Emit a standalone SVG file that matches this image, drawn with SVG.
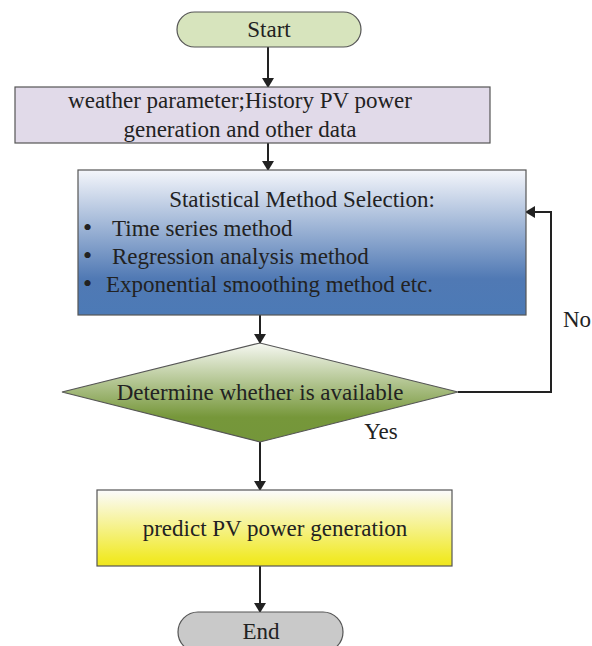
<svg xmlns="http://www.w3.org/2000/svg" width="592" height="646" viewBox="0 0 592 646">
  <style>
    text { font-family: "Liberation Serif", "DejaVu Serif", serif; font-size: 23px; fill: #222; }
    .mid { text-anchor: middle; }
    .bullet { font-size: 26px; }
    .edge { fill: none; stroke: #222; stroke-width: 2; }
    .box { stroke: #555; stroke-width: 1.2; }
  </style>
  <defs>
    <marker id="arrow" markerWidth="10" markerHeight="12" refX="9" refY="6" orient="auto" markerUnits="userSpaceOnUse">
      <path d="M0,0 L10,6 L0,12 Z" fill="#222"/>
    </marker>
    <linearGradient id="gBlue" x1="0" y1="0" x2="0" y2="1">
      <stop offset="0" stop-color="#f4f6fb"/>
      <stop offset="0.75" stop-color="#5079b4"/>
      <stop offset="1" stop-color="#4c7ab6"/>
    </linearGradient>
    <linearGradient id="gGreen" x1="0" y1="0" x2="0" y2="1">
      <stop offset="0" stop-color="#f6f8f2"/>
      <stop offset="0.75" stop-color="#76973a"/>
      <stop offset="1" stop-color="#74963a"/>
    </linearGradient>
    <linearGradient id="gYellow" x1="0" y1="0" x2="0" y2="1">
      <stop offset="0" stop-color="#fbfbfd"/>
      <stop offset="0.9" stop-color="#f1ea2a"/>
      <stop offset="1" stop-color="#efe620"/>
    </linearGradient>
  </defs>

  <!-- connectors -->
  <g id="connectors">
    <line class="edge" x1="268" y1="47" x2="268" y2="87" marker-end="url(#arrow)"/>
    <line class="edge" x1="268" y1="143" x2="268" y2="170" marker-end="url(#arrow)"/>
    <line class="edge" x1="260" y1="315" x2="260" y2="343" marker-end="url(#arrow)"/>
    <polyline class="edge" points="458,392 551,392 551,212 526,212" marker-end="url(#arrow)"/>
    <line class="edge" x1="260" y1="442" x2="260" y2="490" marker-end="url(#arrow)"/>
    <line class="edge" x1="260" y1="566" x2="260" y2="612" marker-end="url(#arrow)"/>
    <text x="577" y="327" class="mid">No</text>
    <text x="381" y="439" class="mid">Yes</text>
  </g>

  <g id="start">
    <rect x="177" y="12" width="184" height="35" rx="17.5" fill="#d7e4bd" class="box"/>
    <text x="269" y="37" class="mid">Start</text>
  </g>

  <g id="input-data">
    <rect x="15" y="87" width="475" height="56" fill="#e1dae9" class="box"/>
    <text x="240" y="108" class="mid">weather parameter;History PV power</text>
    <text x="240" y="137" class="mid">generation and other data</text>
  </g>

  <g id="method-selection">
    <rect x="78" y="170" width="448" height="145" fill="url(#gBlue)" class="box"/>
    <text x="302" y="207" class="mid">Statistical Method Selection:</text>
    <text x="83" y="236" class="bullet">•</text>
    <text x="112" y="236">Time series method</text>
    <text x="83" y="264" class="bullet">•</text>
    <text x="112" y="264">Regression analysis method</text>
    <text x="83" y="292" class="bullet">•</text>
    <text x="106" y="292">Exponential smoothing method etc.</text>
  </g>

  <g id="decision">
    <polygon points="62,392 260,343 458,392 260,442" fill="url(#gGreen)" class="box"/>
    <text x="260" y="400" class="mid">Determine whether is available</text>
  </g>

  <g id="predict">
    <rect x="97" y="490" width="355" height="76" fill="url(#gYellow)" class="box"/>
    <text x="275" y="536" class="mid">predict PV power generation</text>
  </g>

  <g id="end">
    <rect x="178" y="612" width="165" height="40" rx="20" fill="#c9c9c9" class="box"/>
    <text x="261" y="639" class="mid">End</text>
  </g>
</svg>
